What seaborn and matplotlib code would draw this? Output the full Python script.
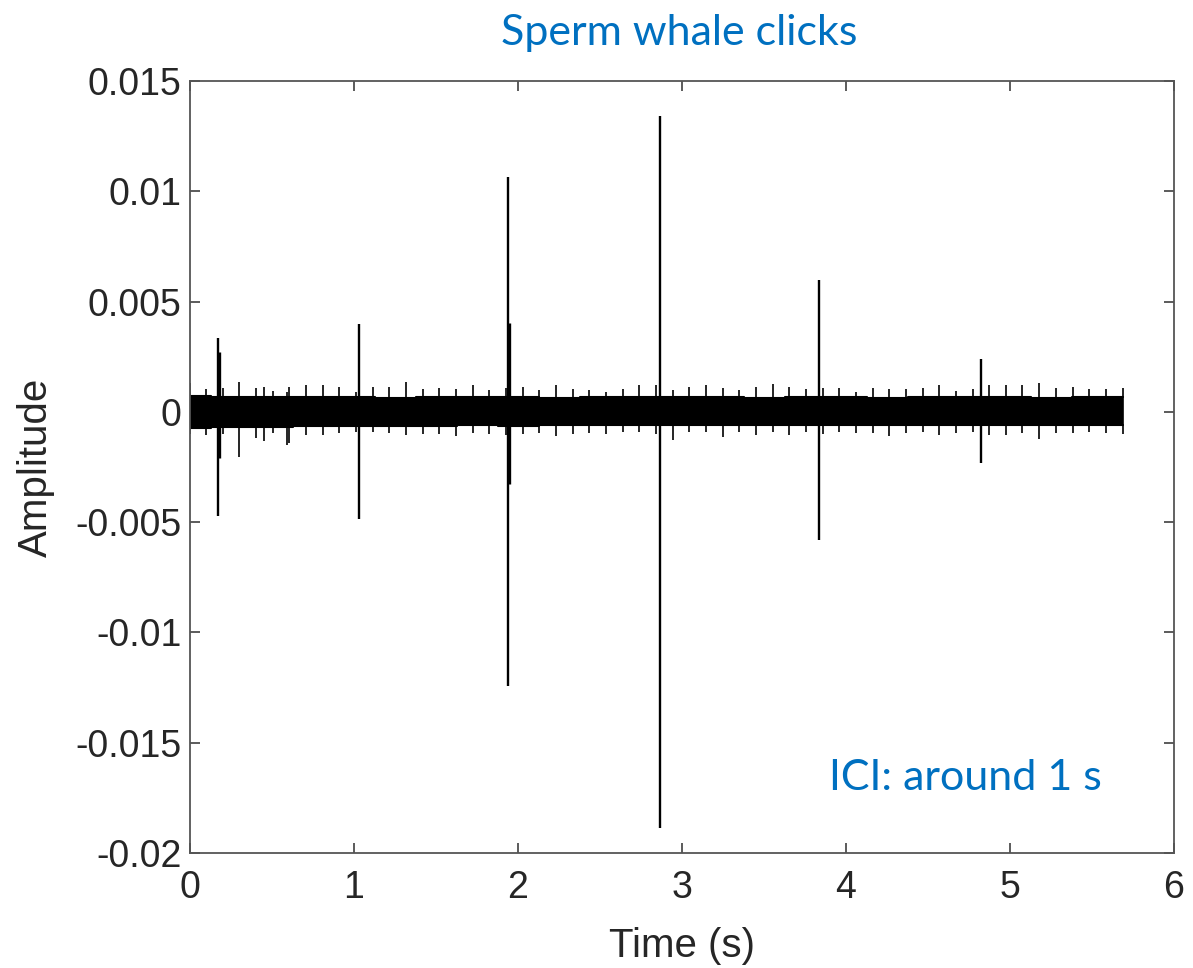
import numpy as np
import pandas as pd
import matplotlib
matplotlib.use("Agg")
import matplotlib.pyplot as plt
import seaborn as sns

# ---------------- data ----------------
# main sperm-whale clicks (time s, positive peak, negative peak)
click_t = [0.169, 1.030, 1.941, 2.868, 3.835, 4.825]
click_max = [0.00337, 0.00398, 0.01067, 0.01343, 0.00598, 0.00239]
click_min = [-0.00472, -0.00485, -0.01245, -0.01888, -0.00580, -0.00230]

# secondary pulses inside clicks
sub_t = [0.177, 1.945]
sub_max = [0.00273, 0.00404]
sub_min = [-0.00210, -0.00326]

# small regular transients riding on the background noise
tick_t = [0.000, 0.098, 0.200, 0.301, 0.403, 0.451, 0.504, 0.590, 0.606, 0.708,
          0.809, 0.911, 1.012, 1.114, 1.216, 1.317, 1.419, 1.520, 1.622,
          1.724, 1.825, 1.927, 2.028, 2.130, 2.232, 2.333, 2.435, 2.536,
          2.638, 2.740, 2.841, 2.943, 3.044, 3.146, 3.248, 3.349, 3.451,
          3.552, 3.654, 3.756, 3.857, 3.959, 4.060, 4.162, 4.264, 4.365,
          4.467, 4.568, 4.670, 4.772, 4.873, 4.975, 5.076, 5.178, 5.280,
          5.381, 5.483, 5.584, 5.686]
tick_up = [0.00130, 0.00104, 0.00110, 0.00136, 0.00110, 0.00115, 0.00095, 0.00090, 0.00115, 0.00120,
           0.00120, 0.00115, 0.00090, 0.00115, 0.00115, 0.00136, 0.00104, 0.00110, 0.00105,
           0.00120, 0.00100, 0.00110, 0.00115, 0.00100, 0.00120, 0.00105, 0.00100, 0.00089,
           0.00103, 0.00122, 0.00122, 0.00098, 0.00115, 0.00122, 0.00107, 0.00100, 0.00115,
           0.00127, 0.00115, 0.00103, 0.00107, 0.00107, 0.00089, 0.00107, 0.00103, 0.00103,
           0.00107, 0.00122, 0.00095, 0.00103, 0.00122, 0.00120, 0.00120, 0.00130, 0.00107,
           0.00115, 0.00103, 0.00103, 0.00110]
tick_lo = [-0.00100, -0.00104, -0.00100, -0.00205, -0.00120, -0.00130, -0.00095, -0.00150, -0.00140, -0.00104,
           -0.00104, -0.00095, -0.00090, -0.00090, -0.00095, -0.00104, -0.00100, -0.00100, -0.00110,
           -0.00095, -0.00100, -0.00105, -0.00100, -0.00095, -0.00110, -0.00100, -0.00095, -0.00100,
           -0.00089, -0.00089, -0.00100, -0.00127, -0.00089, -0.00089, -0.00112, -0.00089, -0.00104,
           -0.00089, -0.00104, -0.00089, -0.00100, -0.00089, -0.00097, -0.00094, -0.00109, -0.00097,
           -0.00089, -0.00104, -0.00097, -0.00089, -0.00104, -0.00104, -0.00097, -0.00124, -0.00097,
           -0.00094, -0.00089, -0.00097, -0.00100]

# envelope of the dense background noise
env_t = [0.00, 0.25, 0.50, 0.75, 1.00, 1.25, 1.50, 1.75, 2.00, 2.25, 2.50,
         2.75, 3.00, 3.25, 3.50, 3.75, 4.00, 4.25, 4.50, 4.75, 5.00, 5.25,
         5.50, 5.687]
env_up = [0.00072, 0.00068, 0.00066, 0.00068, 0.00066, 0.00065, 0.00067, 0.00066,
          0.00068, 0.00065, 0.00066, 0.00067, 0.00069, 0.00066, 0.00065, 0.00067,
          0.00066, 0.00065, 0.00067, 0.00066, 0.00068, 0.00065, 0.00067, 0.00068]
env_lo = [-0.00072, -0.00070, -0.00068, -0.00066, -0.00064, -0.00062, -0.00063, -0.00061,
          -0.00062, -0.00060, -0.00059, -0.00060, -0.00061, -0.00059, -0.00058, -0.00059,
          -0.00060, -0.00058, -0.00059, -0.00058, -0.00060, -0.00059, -0.00058, -0.00059]

x_ticks = [0, 1, 2, 3, 4, 5, 6]
y_ticks = [-0.02, -0.015, -0.01, -0.005, 0, 0.005, 0.01, 0.015]
y_ticklabels = ["-0.02", "-0.015", "-0.01", "-0.005", "0", "0.005", "0.01", "0.015"]

title_text = "Sperm whale clicks"
note_text = "ICI: around 1 s"

# ---------------- drawing ----------------
sns.set_theme(style="white")
plt.rcParams["font.family"] = ["Liberation Sans", "DejaVu Sans"]

fig = plt.figure(figsize=(11.93, 9.68), dpi=100)
ax = fig.add_axes([0.1593, 0.1188, 0.8248, 0.7975])

env = pd.DataFrame({"t": env_t, "up": env_up, "lo": env_lo})
ax.fill_between(env["t"], env["lo"], env["up"], color="black", lw=0, step="mid")
sns.lineplot(data=env, x="t", y="up", ax=ax, color="black", lw=1.5, drawstyle="steps-mid")
sns.lineplot(data=env, x="t", y="lo", ax=ax, color="black", lw=1.5, drawstyle="steps-mid")

ax.vlines(tick_t, tick_lo, tick_up, color="black", lw=1.2)
ax.vlines(click_t, click_min, click_max, color="black", lw=1.7)
ax.vlines(sub_t, sub_min, sub_max, color="black", lw=2.4)

ax.set_xlim(0, 6)
ax.set_ylim(-0.02, 0.015)
ax.set_xticks(x_ticks)
ax.set_xticklabels([str(v) for v in x_ticks])
ax.set_yticks(y_ticks)
ax.set_yticklabels(y_ticklabels)
ax.tick_params(direction="in", length=7, width=1.2, colors="#404040",
               labelcolor="#262626", labelsize=27, top=True, right=True,
               left=True, bottom=True)
ax.tick_params(axis="y", pad=6)
ax.tick_params(axis="x", pad=12)
for s in ax.spines.values():
    s.set_visible(True)
    s.set_color("#555555")
    s.set_linewidth(1.3)

ax.set_xlabel("Time (s)", fontsize=29, color="#262626", va="top")
ax.xaxis.set_label_coords(0.5, -0.096)
ax.set_ylabel("Amplitude", fontsize=29, color="#262626")
ax.yaxis.set_label_coords(-0.137, 0.5)

fig.text(857 / 1193, 1 - 45 / 968, title_text, ha="right", va="baseline",
         fontsize=31, color="#0070C0", family=["Lato", "DejaVu Sans"])
fig.text(1102 / 1193, 1 - 790 / 968, note_text, ha="right", va="baseline",
         fontsize=31, color="#0070C0", family=["Lato", "DejaVu Sans"])

fig.savefig("out.png", dpi=100, facecolor="white")
